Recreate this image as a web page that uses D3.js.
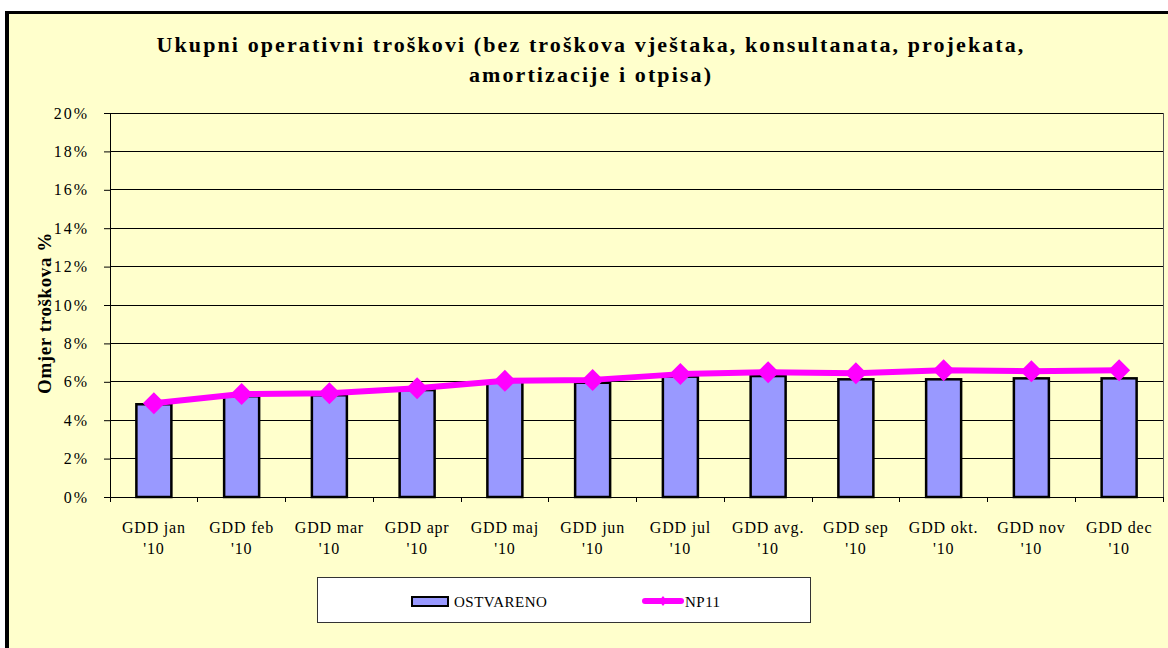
<!DOCTYPE html>
<html><head><meta charset="utf-8">
<script src="https://cdn.jsdelivr.net/npm/d3@7"></script>
<style>body{margin:0;background:#fff}svg{display:block}</style>
</head><body>
<svg id="c" width="1168" height="648"></svg>
<script>
const categories = ["GDD jan","GDD feb","GDD mar","GDD apr","GDD maj","GDD jun","GDD jul","GDD avg.","GDD sep","GDD okt.","GDD nov","GDD dec"];
const yearLabel = "'10";
const ostvareno = [4.83, 5.25, 5.3, 5.57, 6.0, 5.95, 6.27, 6.3, 6.13, 6.13, 6.18, 6.18];
const np11 = [4.88, 5.36, 5.4, 5.66, 6.05, 6.1, 6.4, 6.5, 6.45, 6.6, 6.55, 6.6];
const yTicks = [0, 2, 4, 6, 8, 10, 12, 14, 16, 18, 20];
const titleLines = ["Ukupni operativni troškovi (bez troškova vještaka, konsultanata, projekata,", "amortizacije i otpisa)"];
const yTitle = "Omjer troškova %";
const seriesNames = ["OSTVARENO", "NP11"];

const svg = d3.select("#c");
const serif = "'Liberation Serif','DejaVu Serif',serif";
svg.append("rect").attr("x",5).attr("y",11).attr("width",1163).attr("height",637).attr("fill","#FFFFCC");
svg.append("rect").attr("x",5).attr("y",11).attr("width",4).attr("height",637).attr("fill","#000");
svg.append("rect").attr("x",5).attr("y",11).attr("width",1163).attr("height",3).attr("fill","#000");

const L=110, R=1163, T=113, B=497;
const x = d3.scaleBand().domain(categories).range([L,R]);
const y = d3.scaleLinear().domain([0,20]).range([B,T]);

svg.append("g").selectAll("text").data(titleLines).join("text")
  .attr("x",591).attr("y",(d,i)=>52+i*30).attr("text-anchor","middle")
  .attr("font-family",serif).attr("font-weight","bold").attr("font-size",22).attr("letter-spacing","2.1px")
  .attr("fill","#000").text(d=>d);

svg.append("g").selectAll("line").data(yTicks).join("line")
  .attr("x1",L).attr("x2",R).attr("y1",d=>y(d)).attr("y2",d=>y(d))
  .attr("stroke","#000").attr("stroke-width",1).attr("shape-rendering","crispEdges");
svg.append("line").attr("x1",R).attr("x2",R).attr("y1",T).attr("y2",B).attr("stroke","#555").attr("shape-rendering","crispEdges");

const ya = svg.append("g").attr("transform",`translate(${L},0)`)
  .call(d3.axisLeft(y).tickValues(yTicks).tickSize(6).tickPadding(15).tickFormat(d=>d+"%"));
ya.select(".domain").attr("stroke","#000");
ya.selectAll("text").attr("font-family",serif).attr("font-size",16).attr("fill","#000").attr("letter-spacing","2px");

const xa = svg.append("g").attr("transform",`translate(0,${B})`)
  .call(d3.axisBottom(x).tickSize(0).tickFormat(""));
xa.select(".domain").attr("stroke","#000");
const tickPos = categories.map((c)=>x(c)).concat([R]);
svg.append("g").selectAll("line").data(tickPos).join("line")
  .attr("x1",d=>d).attr("x2",d=>d).attr("y1",B).attr("y2",B+5).attr("stroke","#000").attr("shape-rendering","crispEdges");
const lab = svg.append("g").selectAll("text").data(categories).join("text")
  .attr("x",d=>x(d)+x.bandwidth()/2).attr("text-anchor","middle")
  .attr("font-family",serif).attr("font-size",16).attr("letter-spacing","0.8px").attr("fill","#000");
lab.append("tspan").attr("x",d=>x(d)+x.bandwidth()/2).attr("y",533).text(d=>d);
lab.append("tspan").attr("x",d=>x(d)+x.bandwidth()/2).attr("y",554).text(yearLabel);

const bw = 35;
svg.append("g").selectAll("rect").data(ostvareno).join("rect")
  .attr("x",(d,i)=>x(categories[i])+x.bandwidth()/2-bw/2).attr("width",bw)
  .attr("y",d=>y(d)).attr("height",d=>B-y(d))
  .attr("fill","#9999FF").attr("stroke","#000").attr("stroke-width",2.5);

const line = d3.line().x((d,i)=>x(categories[i])+x.bandwidth()/2).y(d=>y(d));
svg.append("path").datum(np11).attr("d",line).attr("fill","none").attr("stroke","#FF00FF").attr("stroke-width",6).attr("stroke-linejoin","round");
svg.append("g").selectAll("path").data(np11).join("path")
  .attr("transform",(d,i)=>`translate(${x(categories[i])+x.bandwidth()/2},${y(d)})`)
  .attr("d","M0,-11L11,0L0,11L-11,0Z")
  .attr("fill","#FF00FF");

svg.append("text").attr("transform",`translate(51,${(T+B)/2+8}) rotate(-90)`).attr("text-anchor","middle")
  .attr("font-family",serif).attr("font-weight","bold").attr("font-size",19).attr("letter-spacing","0.6px").attr("fill","#000").text(yTitle);

svg.append("rect").attr("x",317.5).attr("y",577.5).attr("width",493).attr("height",45).attr("fill","#fff").attr("stroke","#333");
svg.append("rect").attr("x",412).attr("y",597).attr("width",36).attr("height",9).attr("fill","#9999FF").attr("stroke","#000").attr("stroke-width",2);
svg.append("text").attr("x",454).attr("y",607).attr("font-family",serif).attr("font-size",15).attr("letter-spacing","0.5px").attr("fill","#000").text(seriesNames[0]);
svg.append("line").attr("x1",645).attr("x2",681).attr("y1",601).attr("y2",601).attr("stroke","#FF00FF").attr("stroke-width",6).attr("stroke-linecap","round");
svg.append("path").attr("d","M663,596L667,601L663,606L659,601Z").attr("fill","#FF00FF");
svg.append("text").attr("x",685).attr("y",607).attr("font-family",serif).attr("font-size",15).attr("letter-spacing","0.5px").attr("fill","#000").text(seriesNames[1]);
</script>
</body></html>
